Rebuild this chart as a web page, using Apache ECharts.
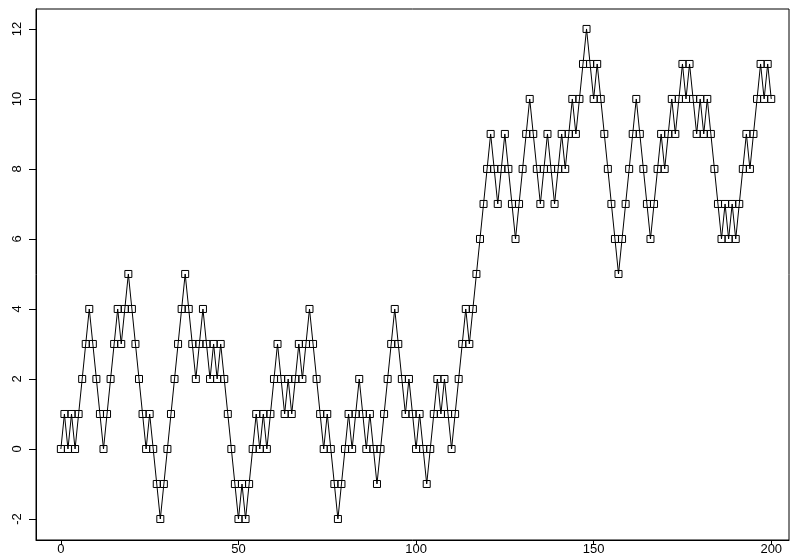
<!DOCTYPE html>
<html>
<head>
<meta charset="utf-8">
<title>Random walk</title>
<script src="https://cdn.jsdelivr.net/npm/echarts@6/dist/echarts.min.js"></script>
<style>
  html, body { margin: 0; padding: 0; background: #fff; }
  #chart { width: 793px; height: 556px; }
</style>
</head>
<body>
<div id="chart"></div>
<script>
// Position of the walk after each step (step index = array index, 0..200)
const walk = [
  0, 1, 0, 1, 0, 1, 2, 3, 4, 3, 2, 1, 0, 1, 2, 3, 4, 3, 4, 5,
  4, 3, 2, 1, 0, 1, 0, -1, -2, -1, 0, 1, 2, 3, 4, 5,
  4, 3, 2, 3, 4, 3, 2, 3, 2, 3, 2, 1, 0, -1, -2,
  -1, -2, -1, 0, 1, 0, 1, 0, 1, 2, 3, 2, 1, 2, 1, 2, 3,
  2, 3, 4, 3, 2, 1, 0, 1, 0, -1, -2, -1, 0, 1, 0, 1, 2,
  1, 0, 1, 0, -1, 0, 1, 2, 3, 4, 3, 2, 1, 2, 1, 0,
  1, 0, -1, 0, 1, 2, 1, 2, 1, 0, 1, 2, 3, 4, 3, 4, 5, 6, 7, 8,
  9, 8, 7, 8, 9, 8, 7, 6, 7, 8, 9, 10, 9, 8, 7,
  8, 9, 8, 7, 8, 9, 8, 9, 10, 9, 10, 11, 12, 11, 10,
  11, 10, 9, 8, 7, 6, 5, 6, 7, 8, 9, 10, 9, 8, 7, 6, 7, 8,
  9, 8, 9, 10, 9, 10, 11, 10, 11, 10, 9, 10, 9, 10, 9, 8, 7, 6,
  7, 6, 7, 6, 7, 8, 9, 8, 9, 10, 11, 10, 11, 10
];

const xTicks = [0, 50, 100, 150, 200];
const yTicks = [-2, 0, 2, 4, 6, 8, 10, 12];

const points = walk.map((v, i) => [i, v]);

const font = 'Liberation Sans, Arial, Helvetica, sans-serif';

const chart = echarts.init(document.getElementById('chart'), null, { renderer: 'canvas' });

chart.setOption({
  animation: false,
  backgroundColor: '#ffffff',
  grid: {
    left: 36, right: 4, top: 9, bottom: 16,
    show: true,
    borderColor: '#000',
    borderWidth: 1,
    backgroundColor: 'transparent'
  },
  xAxis: {
    type: 'value',
    min: -7,
    max: 205,
    splitLine: { show: false },
    axisLine: { show: true, onZero: false, lineStyle: { color: '#000', width: 1 } },
    axisTick: { show: true, length: 5, customValues: xTicks, lineStyle: { color: '#000' } },
    axisLabel: {
      customValues: xTicks,
      margin: 3,
      color: '#000',
      fontSize: 13,
      fontFamily: font
    }
  },
  yAxis: {
    type: 'value',
    min: -2.6,
    max: 12.57,
    splitLine: { show: false },
    axisLine: { show: true, onZero: false, lineStyle: { color: '#000', width: 1 } },
    axisTick: { show: true, length: 7, customValues: yTicks, lineStyle: { color: '#000' } },
    axisLabel: {
      customValues: yTicks,
      rotate: 90,
      margin: 12,
      color: '#000',
      fontSize: 13,
      fontFamily: font
    }
  },
  series: [{
    type: 'line',
    data: points,
    symbol: 'rect',
    symbolSize: 7,
    showAllSymbol: true,
    lineStyle: { color: '#000', width: 1 },
    itemStyle: { color: 'rgba(0,0,0,0)', borderColor: '#000', borderWidth: 1 },
    emphasis: { disabled: true }
  }]
});
</script>
</body>
</html>
